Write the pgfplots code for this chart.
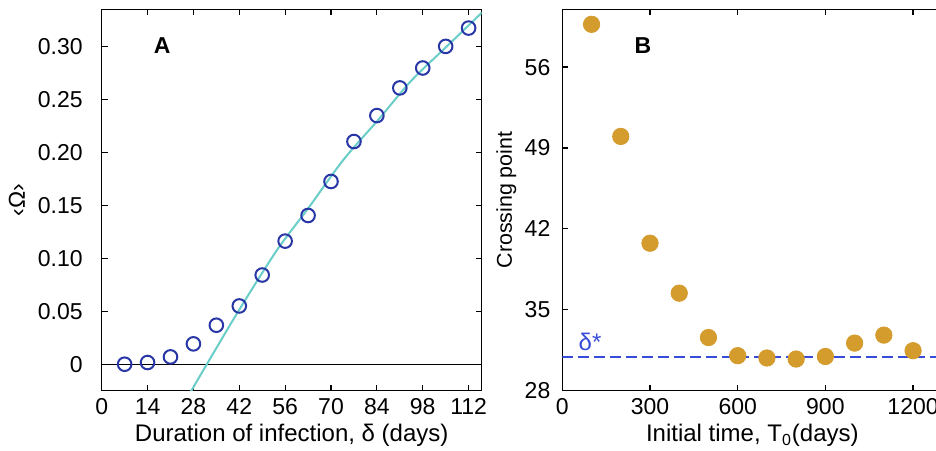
\documentclass[border=0pt]{standalone}
\usepackage{fontspec}
\setmainfont{Liberation Sans}
\usepackage{pgfplots}
\pgfplotsset{compat=1.18}
\definecolor{circblue}{RGB}{40,55,165}
\definecolor{fitcyan}{RGB}{105,205,200}
\definecolor{gold}{RGB}{212,155,45}
\definecolor{dashblue}{RGB}{55,75,215}
\pgfplotsset{
  panel/.style={
    scale only axis, width=190pt, height=190.7pt,
    anchor=south west,
    axis line style={line width=0.6pt},
    every tick/.style={line width=0.6pt, black},
    major tick length=3pt,
    tick align=inside,
    scaled ticks=false,
    /pgf/number format/assume math mode=true,
    /pgf/number format/1000 sep={},
    ticklabel style={font=\fontsize{11.5}{13}\selectfont},
    xticklabel style={anchor=base, yshift=-11.8pt},
    xlabel style={font=\fontsize{12}{14}\selectfont, at={(axis description cs:0.5,-0.133)}, anchor=base},
  }
}
\begin{document}
\begin{tikzpicture}
\useasboundingbox (0,0) rectangle (468pt,225pt);
\clip (0,0) rectangle (468pt,225pt);
\begin{axis}[panel, at={(50.85pt,29.65pt)},
  xmin=0, xmax=116, ymin=-0.025, ymax=0.335,
  xtick={0,14,...,112},
  ytick={0,0.05,0.10,0.15,0.20,0.25,0.30},
  yticklabels={0,0.05,0.10,0.15,0.20,0.25,0.30},
  yticklabel style={anchor=east, inner sep=0pt, xshift=-9.35pt},
  xlabel={Duration of infection, δ (days)},
  ylabel={‹Ω›},
  ylabel style={font=\fontsize{11.5}{13}\selectfont, at={(axis description cs:-0.202,0.5)}, anchor=base},
]
\addplot[black, line width=0.7pt] coordinates {(0,0) (116,0)};
\addplot[draw=fitcyan, line width=1pt, smooth] coordinates {
(27.0,-0.0270) (32.1,0) (42,0.0515) (53.5,0.1077) (63,0.1470) (73.7,0.1926) (84.5,0.2310) (94.5,0.2676) (105,0.2990) (116.2,0.3323)};
\addplot[only marks, mark=o, mark size=3.4pt, draw=circblue, mark options={line width=1pt, draw=circblue}] coordinates {
(7,0) (14,0.0016) (21,0.0069) (28,0.0192) (35,0.0368) (42,0.0550) (49,0.0842) (56,0.1162)
(63,0.1404) (70,0.1725) (77,0.2102) (84,0.2347) (91,0.2608) (98,0.2796) (105,0.3000) (112,0.3173)};
\node[font=\bfseries\fontsize{11.5}{13}\selectfont] at (axis description cs:0.159,0.904) {A};
\end{axis}
\begin{axis}[panel, at={(281.15pt,29.65pt)},
  xmin=0, xmax=1300, ymin=28, ymax=61,
  xtick={0,300,600,900,1200},
  ytick={28,35,42,49,56},
  yticklabel style={anchor=east, inner sep=0pt, xshift=-5.8pt},
  xlabel={Initial time, T\textsubscript{0}(days)},
  ylabel={Crossing point},
  ylabel style={font=\fontsize{10.7}{13}\selectfont, at={(axis description cs:-0.133,0.5)}, anchor=base},
]
\addplot[color=dashblue, solid, line width=1pt, dash pattern=on 5.5pt off 2.5pt, mark=none] coordinates {(0,30.88) (1300,30.88)};
\addplot[only marks, mark=*, mark size=4.1pt, draw=gold, fill=gold, mark options={draw=gold, fill=gold}] coordinates {
(100,59.7) (200,50.0) (300,40.76) (400,36.44) (500,32.6) (600,31.03) (700,30.83) (800,30.74)
(900,30.96) (1000,32.12) (1100,32.81) (1200,31.46)};
\node[text=dashblue, font=\fontsize{12}{14}\selectfont] at (axis cs:95,32.23) {δ*};
\node[font=\bfseries\fontsize{11.5}{13}\selectfont] at (axis description cs:0.212,0.906) {B};
\end{axis}
\end{tikzpicture}
\end{document}
